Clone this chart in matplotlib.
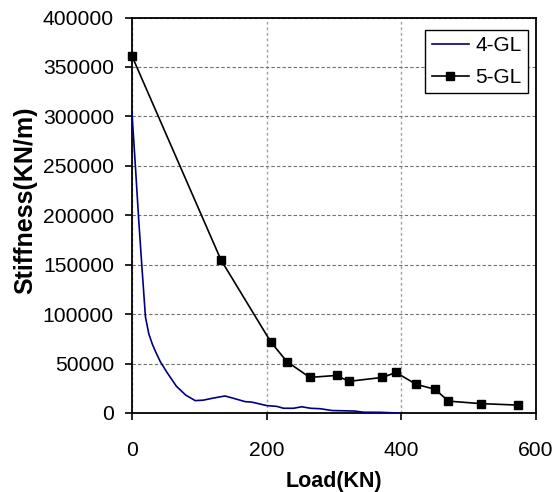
import matplotlib
matplotlib.use('Agg')
import matplotlib.pyplot as plt

plt.rcParams['font.family'] = ['Liberation Sans', 'DejaVu Sans']

# ── Data ────────────────────────────────────────────────────────────────────────
load_4gl = [0, 5, 10, 15, 20, 25, 30, 35, 42, 52, 66, 80, 94, 106, 120, 138,
            150, 168, 178, 200, 215, 225, 240, 252, 265, 280, 297, 330, 344,
            368, 396]
stiff_4gl = [303000, 250000, 195000, 145000, 97000, 80000, 70000, 62000,
             52000, 41000, 27000, 18000, 12500, 13000, 15000, 17200, 15000,
             11500, 11000, 7500, 6700, 4800, 4800, 6300, 4800, 4300, 2500,
             2000, 800, 700, 0]

load_5gl = [0, 132, 206, 230, 264, 304, 322, 372, 392, 422, 450, 470, 518, 573]
stiff_5gl = [361000, 155000, 72000, 52000, 36000, 38000, 32000, 36000, 41000,
             29000, 24000, 12000, 9500, 8000]

x_ticks = [0, 200, 400, 600]
y_ticks = list(range(0, 400001, 50000))

# ── Figure ──────────────────────────────────────────────────────────────────────
fig = plt.figure(figsize=(5.58, 4.92), dpi=100)
ax = fig.add_axes([132 / 558, 1 - 413 / 492, 404 / 558, 395.5 / 492])

ax.plot(load_4gl, stiff_4gl, color='#000080', lw=1.2, label='4-GL', zorder=3)
ax.plot(load_5gl, stiff_5gl, color='black', lw=1.2, marker='s', ms=6,
        label='5-GL', zorder=4, clip_on=False)

ax.set_xlim(0, 600)
ax.set_ylim(0, 400000)
ax.set_xticks(x_ticks)
ax.set_yticks(y_ticks)
ax.set_yticklabels([str(v) for v in y_ticks])

ax.grid(axis='y', color='#707070', ls=(0, (3, 2)), lw=0.8)
ax.grid(axis='x', color='#a0a0a0', ls=(0, (2, 2)), lw=1.0)
ax.set_axisbelow(True)

for s in ax.spines.values():
    s.set_linewidth(1.3)
ax.tick_params(direction='out', length=5, width=1.2, labelsize=15.2)
ax.tick_params(axis='y', pad=8)
ax.tick_params(axis='x', pad=15)

leg = ax.legend(loc='upper right', bbox_to_anchor=(0.980, 0.968),
                fontsize=15, frameon=True, fancybox=False,
                edgecolor='black', framealpha=1, handlelength=1.8,
                handletextpad=0.3, borderpad=0.3, labelspacing=0.6,
                borderaxespad=0)
leg.get_frame().set_linewidth(1.0)

fig.text(25 / 558, 1 - 200 / 492, 'Stiffness(KN/m)', rotation=90,
         ha='center', va='center', fontsize=18, fontweight='bold')
fig.text(334 / 558, 1 - 481 / 492, 'Load(KN)', ha='center', va='center',
         fontsize=15.5, fontweight='bold')

fig.savefig('out.png', dpi=100)
